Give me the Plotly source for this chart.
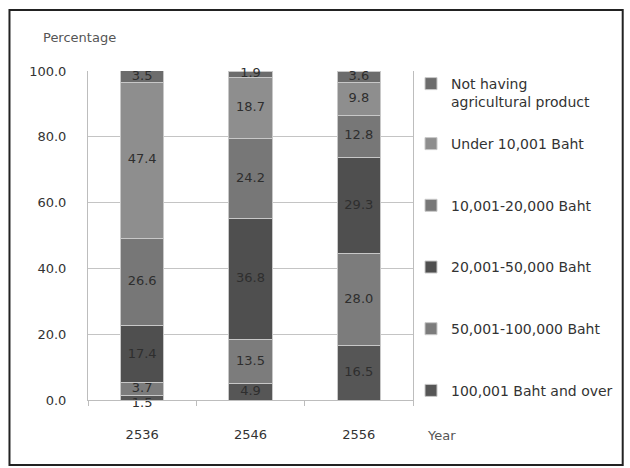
import plotly.graph_objects as go

years = ["2536", "2546", "2556"]
series_names = [
    "100,001 Baht and over",
    "50,001-100,000 Baht",
    "20,001-50,000 Baht",
    "10,001-20,000 Baht",
    "Under 10,001 Baht",
    "Not having<br>agricultural product",
]
v_100001_over = [1.5, 4.9, 16.5]
v_50001_100000 = [3.7, 13.5, 28.0]
v_20001_50000 = [17.4, 36.8, 29.3]
v_10001_20000 = [26.6, 24.2, 12.8]
v_under_10001 = [47.4, 18.7, 9.8]
v_not_having = [3.5, 1.9, 3.6]
series_values = [v_100001_over, v_50001_100000, v_20001_50000,
                 v_10001_20000, v_under_10001, v_not_having]
colors = ["#565656", "#7c7c7c", "#4f4f4f", "#777777", "#8e8e8e", "#6c6c6c"]
y_ticks = [0, 20, 40, 60, 80, 100]

W, H = 630, 468
L, R, T, B = 88, 415, 71, 400  # plot area in px

fig = go.Figure()
n = len(series_names)
for i, (name, vals, col) in enumerate(zip(series_names, series_values, colors)):
    fig.add_trace(go.Bar(
        x=years, y=vals, name=name,
        marker=dict(color=col, line=dict(color="#c8c8c8", width=1)),
        textposition="none",
        legendrank=n - i,
        legendgroup=str(i),
        legend="legend2" if i == n - 1 else "legend",
    ))

# value labels at the middle of each stacked segment
lab_x, lab_y, lab_t, lab_pos = [], [], [], []
for j, yr in enumerate(years):
    base = 0.0
    for i, vals in enumerate(series_values):
        v = vals[j]
        lab_x.append(yr)
        lab_y.append(base + v / 2)
        lab_t.append(f"{v:.1f}")
        lab_pos.append("bottom center" if (i == 0 and v < 2) else "middle center")
        base += v
fig.add_trace(go.Scatter(
    x=lab_x, y=lab_y, text=lab_t, mode="text", textposition=lab_pos,
    textfont=dict(family="DejaVu Sans", size=13, color="#2e2e2e"),
    showlegend=False, hoverinfo="skip", cliponaxis=False,
))

def px_x(p):
    return (p - L) / (R - L)

def px_y(p):
    return (B - p) / (B - T)

legend_common = dict(
    xanchor="left", yanchor="top",
    font=dict(family="DejaVu Sans", size=14, color="#333333"),
    valign="top", itemwidth=30, bgcolor="rgba(0,0,0,0)", maxheight=460,
)

fig.update_layout(
    width=W, height=H,
    barmode="stack", bargap=0.6,
    margin=dict(l=L, r=W - R, t=T, b=H - B, pad=0),
    paper_bgcolor="white", plot_bgcolor="white",
    font=dict(family="DejaVu Sans", color="#444444"),
    legend=dict(x=px_x(413), y=px_y(128), tracegroupgap=40.5, **legend_common),
    legend2=dict(x=px_x(413), y=px_y(68), **legend_common),
    xaxis=dict(
        type="category", showgrid=False,
        range=[-0.5, len(years) - 0.5],
        showline=True, linecolor="#bdbdbd", linewidth=1,
        ticks="outside", tickson="boundaries", ticklen=5, tickcolor="#bdbdbd",
        tickfont=dict(family="DejaVu Sans", size=13, color="#333333"),
        ticklabelstandoff=22,
    ),
    yaxis=dict(
        range=[0, 100], tickvals=y_ticks,
        ticktext=[f"{v:.1f}" for v in y_ticks],
        showgrid=True, gridcolor="#c4c4c4", gridwidth=1,
        showline=True, linecolor="#bdbdbd", linewidth=1, mirror=True,
        ticks="", ticklabelstandoff=18,
        tickfont=dict(family="DejaVu Sans", size=13, color="#333333"),
        zeroline=False,
    ),
    shapes=[dict(
        type="rect", xref="paper", yref="paper",
        x0=px_x(9), x1=px_x(626), y0=px_y(465), y1=px_y(10),
        line=dict(color="#222222", width=2), fillcolor="rgba(0,0,0,0)",
        layer="below",
    )],
    annotations=[
        dict(text="Percentage", xref="paper", yref="paper",
             x=px_x(41), y=px_y(38), xanchor="left", yanchor="middle",
             showarrow=False, font=dict(family="DejaVu Sans", size=13, color="#555555")),
        dict(text="Year", xref="paper", yref="paper",
             x=px_x(427), y=px_y(435), xanchor="left", yanchor="middle",
             showarrow=False, font=dict(family="DejaVu Sans", size=13, color="#555555")),
    ],
)

fig.write_html("out.html", config={"displayModeBar": False},
               post_script="document.body.style.margin='0';")
